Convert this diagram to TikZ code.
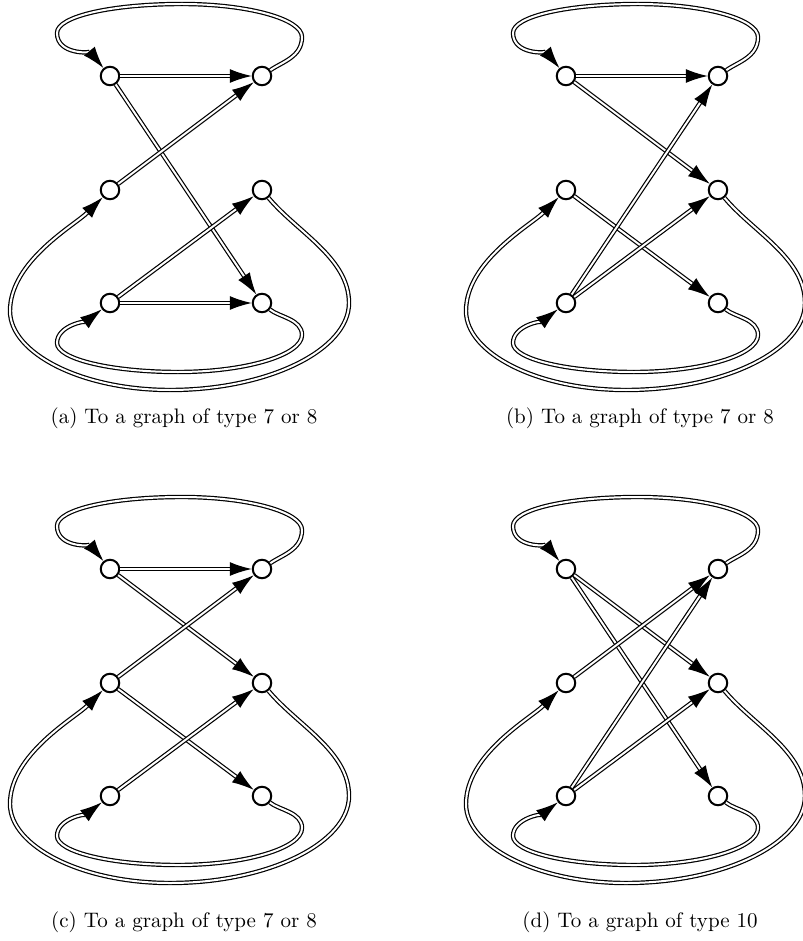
\documentclass[tikz,border=0pt]{standalone}
\usetikzlibrary{arrows.meta}
\newcommand{\gpanel}[3]{%
  \begin{scope}[shift={(#2,#3)}]
    \node[vtx] (#1tl) at (0,0) {};
    \node[vtx] (#1tr) at (152,0) {};
    \node[vtx] (#1ml) at (0,-114) {};
    \node[vtx] (#1mr) at (152,-114) {};
    \node[vtx] (#1bl) at (0,-227) {};
    \node[vtx] (#1br) at (152,-227) {};
    \coordinate (#1p1) at (192,39);
    \coordinate (#1p2) at (72,72);
    \coordinate (#1p3) at (-53,43);
    \coordinate (#1q1) at (192,-259);
    \coordinate (#1q2) at (68,-296);
    \coordinate (#1q3) at (-53,-267);
    \coordinate (#1r1) at (239,-227);
    \coordinate (#1r2) at (60,-314);
    \coordinate (#1r3) at (-100,-235);
    \draw[dline] (#1tr) .. controls +(20,14) and +(0,-20) .. (#1p1)
      .. controls +(0,18) and +(66,0) .. (#1p2)
      .. controls +(-69,0) and +(0,17) .. (#1p3)
      .. controls +(0,-22) and +(-19,23) .. (#1tl);
    \draw[dline] (#1br) .. controls +(17,-14) and +(0,16) .. (#1q1)
      .. controls +(0,-20) and +(68,0) .. (#1q2)
      .. controls +(-67,0) and +(0,-16) .. (#1q3)
      .. controls +(0,18) and +(-22,-17) .. (#1bl);
    \draw[dline] (#1mr) .. controls +(35,-42) and +(0,45) .. (#1r1)
      .. controls +(0,-47) and +(98,0) .. (#1r2)
      .. controls +(-89,0) and +(0,-42) .. (#1r3)
      .. controls +(0,50) and +(-35,-35) .. (#1ml);
  \end{scope}}
\begin{document}
\begin{tikzpicture}[x=1pt,y=1pt,
  vtx/.style={circle,draw,line width=2pt,fill=white,minimum size=18.5pt,inner sep=0pt},
  dline/.style={draw,line width=1.2pt,double=white,double distance=2pt,
    -{Latex[length=22pt,width=14pt]}},
  captxt/.style={inner sep=0pt}]
\useasboundingbox (0,0) rectangle (802,-941);
% panel (a)
\gpanel{a}{110}{-76}
\draw[dline] (atl) -- (atr);
\draw[dline] (atl) -- (abr);
\draw[dline] (aml) -- (atr);
\draw[dline] (abl) -- (amr);
\draw[dline] (abl) -- (abr);
\node[captxt] (capa) at (184,-418) {\scalebox{2.1}{(a) To a graph of type 7 or 8}};
% panel (b)
\gpanel{b}{566}{-76}
\draw[dline] (btl) -- (btr);
\draw[dline] (btl) -- (bmr);
\draw[dline] (bml) -- (bbr);
\draw[dline] (bbl) -- (btr);
\draw[dline] (bbl) -- (bmr);
\node[captxt] (capb) at (640,-418) {\scalebox{2.1}{(b) To a graph of type 7 or 8}};
% panel (c)
\gpanel{c}{110}{-569}
\draw[dline] (ctl) -- (ctr);
\draw[dline] (ctl) -- (cmr);
\draw[dline] (cml) -- (ctr);
\draw[dline] (cml) -- (cbr);
\draw[dline] (cbl) -- (cmr);
\node[captxt] (capc) at (184,-922) {\scalebox{2.1}{(c) To a graph of type 7 or 8}};
% panel (d)
\gpanel{d}{566}{-569}
\draw[dline] (dtl) -- (dmr);
\draw[dline] (dtl) -- (dbr);
\draw[dline] (dml) -- (dtr);
\draw[dline] (dbl) -- (dtr);
\draw[dline] (dbl) -- (dmr);
\node[captxt] (capd) at (640,-922) {\scalebox{2.1}{(d) To a graph of type 10}};
\end{tikzpicture}
\end{document}
